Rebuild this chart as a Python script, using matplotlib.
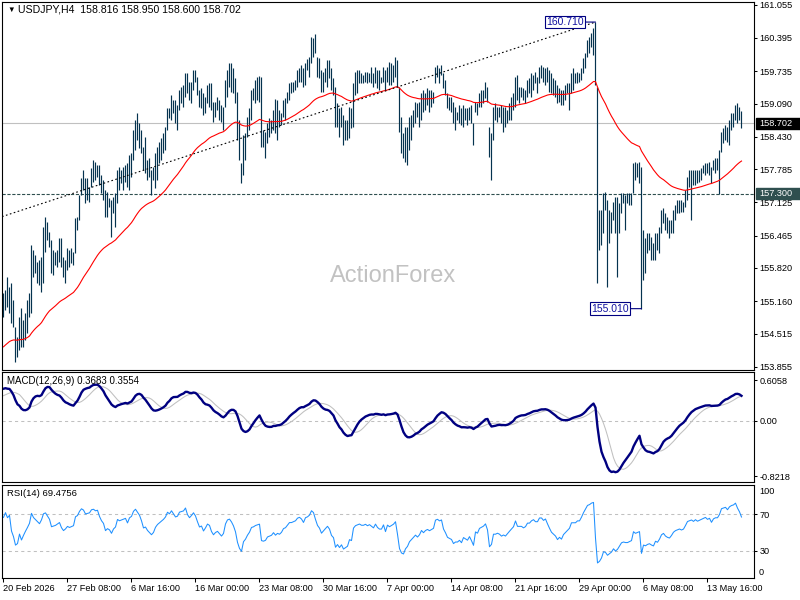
import numpy as np
import matplotlib

matplotlib.use("Agg")
import matplotlib.pyplot as plt
from matplotlib.patches import Rectangle
from matplotlib.transforms import blended_transform_factory

plt.rcParams["font.family"] = ["Liberation Sans", "DejaVu Sans"]
plt.rcParams["font.size"] = 6.5

# --- USDJPY H4 bars (20 Feb 2026 00:00 onwards) -----------------------------

HIGH = [
    155.32, 155.38, 155.64, 155.44, 155.52, 155.18, 154.64, 154.45, 154.84, 155.02,
    154.78, 154.92, 155.18, 155.32, 156.28, 156.18, 156.08, 155.94, 155.98, 156.04,
    156.63, 156.83, 156.73, 156.53, 156.38, 156.18, 156.14, 156.18, 156.42, 156.42,
    156.04, 155.98, 156.22, 156.18, 156.22, 156.14, 156.81, 156.83, 157.27, 157.61,
    157.77, 157.61, 157.61, 157.43, 157.81, 157.97, 157.93, 157.87, 157.87, 157.67,
    157.57, 157.37, 157.33, 157.21, 157.17, 157.23, 157.31, 157.77, 157.83, 157.77,
    157.83, 157.87, 157.91, 158.07, 158.11, 158.56, 158.76, 158.90, 158.70, 158.56,
    158.22, 158.42, 157.97, 158.01, 157.77, 157.83, 158.11, 158.22, 158.32, 158.40,
    158.50, 158.62, 159.00, 159.00, 159.26, 159.16, 159.16, 159.06, 159.36, 159.42,
    159.46, 159.70, 159.70, 159.52, 159.52, 159.76, 159.76, 159.62, 159.36, 159.40,
    159.30, 159.22, 159.46, 159.50, 159.50, 159.12, 159.12, 159.22, 159.16, 159.06,
    159.02, 159.56, 159.76, 159.90, 159.90, 159.80, 159.60, 159.32, 158.76, 157.91,
    158.46, 158.50, 158.82, 159.00, 159.36, 159.40, 159.56, 159.62, 159.64, 159.62,
    158.56, 158.52, 158.70, 158.80, 158.76, 158.96, 159.18, 159.16, 158.96, 158.90,
    159.16, 159.20, 159.32, 159.50, 159.52, 159.52, 159.56, 159.76, 159.80, 159.86,
    159.80, 159.90, 159.98, 160.02, 160.41, 160.39, 160.47, 160.02, 160.00, 159.76,
    159.72, 159.80, 159.96, 159.96, 159.80, 159.60, 159.42, 159.10, 159.00, 159.02,
    158.86, 158.76, 158.76, 159.02, 159.00, 159.50, 159.72, 159.76, 159.76, 159.70,
    159.66, 159.72, 159.72, 159.70, 159.82, 159.70, 159.82, 159.76, 159.76, 159.62,
    159.82, 159.76, 159.82, 159.92, 159.90, 159.86, 160.02, 159.96, 159.42, 158.82,
    158.50, 158.62, 158.62, 158.82, 158.86, 158.96, 159.12, 159.10, 159.12, 159.30,
    159.36, 159.30, 159.40, 159.36, 159.36, 159.32, 159.82, 159.86, 159.80, 159.86,
    159.70, 159.56, 159.30, 159.22, 159.22, 159.12, 159.02, 158.92, 159.06, 159.00,
    159.06, 159.00, 159.00, 159.02, 159.06, 158.70, 159.12, 159.10, 159.30, 159.36,
    159.36, 159.52, 159.42, 158.62, 158.50, 159.02, 159.10, 159.02, 159.02, 159.06,
    159.02, 159.02, 158.96, 159.10, 159.22, 159.30, 159.62, 159.66, 159.42, 159.42,
    159.40, 159.36, 159.56, 159.60, 159.70, 159.66, 159.72, 159.62, 159.82, 159.86,
    159.82, 159.80, 159.82, 159.76, 159.70, 159.60, 159.56, 159.46, 159.40, 159.36,
    159.36, 159.46, 159.50, 159.50, 159.70, 159.80, 159.70, 159.72, 159.70, 159.80,
    160.00, 160.09, 160.35, 160.41, 160.49, 160.59, 160.71, 159.42, 156.97, 156.97,
    157.31, 157.33, 157.17, 156.97, 156.93, 157.13, 157.23, 157.23, 157.11, 157.31,
    157.31, 157.27, 157.31, 157.31, 157.31, 157.91, 157.93, 157.91, 157.93, 157.83,
    156.57, 156.42, 156.51, 156.51, 156.43, 156.32, 156.51, 156.51, 156.63, 156.97,
    157.01, 156.91, 156.83, 156.77, 156.77, 156.97, 157.07, 157.17, 157.17, 157.17,
    157.13, 157.37, 157.63, 157.77, 157.77, 157.77, 157.77, 157.77, 157.77, 157.81,
    157.87, 157.91, 157.91, 157.93, 157.83, 157.97, 158.01, 158.01, 158.17, 158.52,
    158.60, 158.66, 158.62, 158.76, 158.90, 158.90, 159.06, 159.10, 159.02, 158.95,
]

LOW = [
    154.84, 154.98, 155.04, 154.92, 154.72, 154.64, 153.95, 154.05, 154.19, 154.25,
    154.25, 154.39, 154.52, 154.84, 154.92, 155.64, 155.72, 155.52, 155.48, 155.34,
    155.52, 156.14, 156.38, 156.24, 155.72, 155.68, 155.88, 155.84, 155.94, 155.84,
    155.64, 155.52, 155.78, 155.84, 155.92, 155.88, 156.12, 156.57, 156.77, 157.27,
    157.37, 157.11, 157.17, 157.13, 157.43, 157.53, 157.57, 157.63, 157.47, 157.31,
    157.17, 156.83, 156.83, 157.03, 156.43, 156.91, 156.63, 157.11, 157.37, 157.51,
    157.37, 157.53, 157.43, 157.37, 157.63, 157.97, 158.17, 158.36, 158.20, 158.11,
    157.77, 157.71, 157.57, 157.63, 157.27, 157.57, 157.41, 157.57, 157.91, 157.97,
    158.11, 158.17, 158.56, 158.80, 158.76, 158.90, 158.70, 158.56, 158.96, 159.10,
    159.02, 159.22, 159.30, 159.16, 159.10, 159.36, 159.52, 159.26, 159.02, 159.00,
    158.86, 158.90, 159.10, 159.02, 158.96, 158.72, 158.82, 158.96, 158.76, 158.72,
    158.56, 159.02, 159.22, 159.42, 159.32, 159.30, 159.10, 158.36, 157.97, 157.51,
    157.67, 157.97, 158.42, 158.56, 158.76, 159.16, 159.10, 159.16, 159.12, 158.22,
    158.22, 158.01, 158.30, 158.42, 158.50, 158.56, 158.50, 158.36, 158.62, 158.66,
    158.82, 158.76, 159.10, 159.16, 159.30, 159.32, 159.36, 159.42, 159.52, 159.52,
    159.42, 159.46, 159.76, 159.62, 159.90, 160.02, 160.09, 159.62, 159.60, 159.32,
    159.32, 159.52, 159.42, 159.60, 159.36, 159.26, 158.62, 158.62, 158.42, 158.62,
    158.26, 158.36, 158.36, 158.40, 158.60, 158.62, 159.26, 159.30, 159.50, 159.50,
    159.50, 159.52, 159.50, 159.52, 159.50, 159.42, 159.50, 159.40, 159.36, 159.50,
    159.52, 159.36, 159.52, 159.46, 159.46, 159.52, 159.62, 159.42, 158.52, 158.11,
    158.01, 157.93, 157.87, 158.17, 158.36, 158.62, 158.70, 158.82, 158.62, 158.76,
    158.92, 158.96, 159.06, 158.92, 159.02, 159.10, 159.50, 159.62, 159.50, 159.66,
    159.40, 159.26, 159.00, 158.96, 158.92, 158.70, 158.56, 158.76, 158.70, 158.66,
    158.62, 158.76, 158.66, 158.76, 158.70, 158.26, 158.92, 158.86, 159.02, 159.02,
    159.10, 159.20, 159.12, 158.03, 157.57, 158.36, 158.76, 158.72, 158.82, 158.70,
    158.52, 158.62, 158.70, 158.76, 158.76, 158.96, 159.02, 159.16, 159.10, 159.22,
    159.16, 159.10, 159.22, 159.30, 159.22, 159.36, 159.50, 159.30, 159.50, 159.60,
    159.52, 159.46, 159.52, 159.32, 159.30, 159.26, 159.22, 159.10, 159.12, 159.06,
    159.06, 159.16, 159.30, 158.96, 159.30, 159.36, 159.50, 159.50, 159.52, 159.56,
    159.70, 159.80, 160.02, 160.09, 160.21, 160.05, 159.46, 155.52, 156.18, 156.28,
    156.51, 156.97, 155.44, 156.32, 156.51, 156.77, 156.51, 155.64, 156.51, 156.91,
    157.11, 156.57, 157.11, 157.07, 157.07, 157.31, 157.57, 157.63, 157.51, 155.01,
    155.58, 155.72, 156.12, 156.18, 155.98, 155.98, 155.98, 156.18, 156.12, 156.51,
    156.71, 156.57, 156.51, 156.42, 156.51, 156.51, 156.77, 156.91, 156.91, 156.93,
    156.93, 157.03, 157.17, 157.43, 156.77, 157.47, 157.47, 157.51, 157.53, 157.57,
    157.71, 157.67, 157.71, 157.67, 157.51, 157.77, 157.71, 157.77, 157.30, 158.13,
    158.30, 158.36, 158.32, 158.26, 158.56, 158.62, 158.76, 158.70, 158.76, 158.60,
]

CLOSE = [
    155.10, 155.30, 155.20, 155.30, 154.90, 154.70, 154.30, 154.35, 154.70, 154.40,
    154.60, 154.80, 155.00, 155.25, 156.10, 155.90, 155.80, 155.70, 155.60, 155.90,
    156.50, 156.60, 156.45, 156.30, 155.90, 155.95, 156.00, 156.10, 156.20, 155.95,
    155.80, 155.90, 156.05, 156.00, 156.05, 156.10, 156.70, 156.80, 157.20, 157.50,
    157.45, 157.30, 157.35, 157.40, 157.70, 157.75, 157.70, 157.75, 157.55, 157.40,
    157.30, 157.00, 157.10, 157.05, 156.90, 157.10, 157.20, 157.65, 157.60, 157.65,
    157.70, 157.75, 157.60, 157.90, 158.00, 158.40, 158.60, 158.50, 158.40, 158.20,
    157.90, 157.95, 157.80, 157.70, 157.60, 157.70, 157.95, 158.10, 158.20, 158.30,
    158.40, 158.55, 158.90, 158.85, 159.10, 159.00, 158.90, 158.95, 159.25, 159.30,
    159.35, 159.60, 159.40, 159.30, 159.45, 159.65, 159.55, 159.35, 159.15, 159.20,
    159.00, 159.15, 159.35, 159.30, 159.05, 158.90, 159.00, 159.05, 158.95, 158.85,
    158.95, 159.40, 159.65, 159.70, 159.60, 159.45, 159.20, 158.60, 158.10, 157.80,
    158.30, 158.45, 158.70, 158.90, 159.25, 159.30, 159.40, 159.45, 159.50, 158.40,
    158.35, 158.40, 158.60, 158.65, 158.70, 158.85, 158.70, 158.80, 158.75, 158.85,
    159.05, 159.10, 159.25, 159.40, 159.40, 159.45, 159.50, 159.65, 159.70, 159.65,
    159.55, 159.80, 159.85, 159.95, 160.25, 160.20, 160.00, 159.80, 159.70, 159.50,
    159.60, 159.70, 159.80, 159.70, 159.45, 159.35, 158.80, 158.90, 158.70, 158.80,
    158.50, 158.55, 158.60, 158.85, 158.80, 159.40, 159.55, 159.60, 159.65, 159.60,
    159.60, 159.65, 159.60, 159.65, 159.60, 159.55, 159.70, 159.60, 159.55, 159.55,
    159.70, 159.50, 159.75, 159.70, 159.75, 159.80, 159.90, 159.50, 158.70, 158.30,
    158.20, 158.40, 158.50, 158.70, 158.80, 158.90, 159.00, 158.90, 159.00, 159.20,
    159.10, 159.20, 159.25, 159.20, 159.25, 159.30, 159.70, 159.75, 159.70, 159.75,
    159.45, 159.30, 159.10, 159.05, 159.00, 158.80, 158.85, 158.85, 158.90, 158.80,
    158.95, 158.90, 158.85, 158.95, 158.80, 158.60, 159.05, 159.00, 159.20, 159.25,
    159.30, 159.40, 159.20, 158.30, 158.40, 158.90, 158.90, 158.95, 158.90, 158.80,
    158.85, 158.80, 158.90, 159.00, 159.10, 159.20, 159.50, 159.30, 159.30, 159.30,
    159.25, 159.30, 159.45, 159.45, 159.55, 159.60, 159.55, 159.55, 159.70, 159.70,
    159.65, 159.70, 159.60, 159.50, 159.40, 159.35, 159.30, 159.20, 159.25, 159.20,
    159.30, 159.35, 159.40, 159.45, 159.60, 159.60, 159.60, 159.65, 159.65, 159.75,
    159.90, 160.05, 160.25, 160.30, 160.40, 160.45, 159.50, 156.50, 156.60, 156.80,
    157.20, 157.10, 156.60, 156.70, 156.80, 157.00, 156.70, 156.80, 157.00, 157.20,
    157.25, 157.20, 157.20, 157.25, 157.30, 157.80, 157.70, 157.75, 157.80, 155.70,
    156.30, 156.20, 156.30, 156.35, 156.20, 156.10, 156.40, 156.30, 156.50, 156.80,
    156.90, 156.70, 156.60, 156.55, 156.70, 156.90, 157.00, 157.05, 157.10, 157.05,
    157.10, 157.30, 157.55, 157.60, 157.65, 157.60, 157.70, 157.65, 157.70, 157.75,
    157.80, 157.85, 157.80, 157.85, 157.75, 157.90, 157.95, 157.95, 158.10, 158.45,
    158.50, 158.55, 158.50, 158.70, 158.80, 158.85, 159.00, 158.90, 158.82, 158.702,
]

LAST_OPEN = 158.816
SUPPORT = 157.30
TREND_BARS = [0, 296]
TREND_PRICES = [156.85, 160.71]
HIGH_MARK_BAR = 296   # 160.710 swing high
LOW_MARK_BAR = 319    # 155.010 swing low

# indicator state just before the first visible bar
EMA55_SEED = 154.22
FAST_SEED, SLOW_SEED, SIGNAL_SEED = 154.70, 154.22, 0.36
GAIN_SEED, LOSS_SEED = 0.06, 0.03

PRICE_TICKS = [161.055, 160.395, 159.735, 159.090, 158.430, 157.785,
               157.125, 156.465, 155.820, 155.160, 154.515, 153.855]
MACD_TICKS = [0.6058, 0.0, -0.8218]
MACD_LABELS = ["0.6058", "0.00", "-0.8218"]
DATE_BARS = list(range(0, 353, 32))
DATE_LABELS = ["20 Feb 2026", "27 Feb 08:00", "6 Mar 16:00", "16 Mar 00:00",
               "23 Mar 08:00", "30 Mar 16:00", "7 Apr 00:00", "14 Apr 08:00",
               "21 Apr 16:00", "29 Apr 00:00", "6 May 08:00", "13 May 16:00"]

BAR_COLOUR = "#05334F"
NAVY = "#000080"


def ema(values, period, prev):
    a = 2.0 / (period + 1)
    out = []
    for v in values:
        prev += a * (v - prev)
        out.append(prev)
    return np.array(out)


close = np.array(CLOSE)
x = np.arange(len(close))
ma55 = ema(close, 55, EMA55_SEED)
macd = ema(close, 12, FAST_SEED) - ema(close, 26, SLOW_SEED)
signal = np.convolve(np.concatenate([np.full(8, SIGNAL_SEED), macd]),
                     np.ones(9) / 9, mode="valid")

g, l = GAIN_SEED, LOSS_SEED
rsi = []
for d in np.diff(close, prepend=close[0]):
    g = (g * 13 + max(d, 0.0)) / 14
    l = (l * 13 + max(-d, 0.0)) / 14
    rsi.append(100 - 100 / (1 + g / l))
rsi = np.array(rsi)

# --- layout (pixel boxes of an 800x600 canvas) ------------------------------

W, H = 800, 600
fig = plt.figure(figsize=(8, 6), dpi=100)


def panel(top, bottom):
    return fig.add_axes([2 / W, 1 - bottom / H, 752 / W, (bottom - top) / H])


ax = panel(2, 370)
ax_macd = panel(372, 482)
ax_rsi = panel(485, 578)

for a in (ax, ax_macd, ax_rsi):
    # 2 px per bar, bar centres on pixel centres
    a.set_xlim(-0.75, 375.25)
    for s in a.spines.values():
        s.set_linewidth(0.8)
        s.set_color("black")
    a.yaxis.tick_right()
    a.tick_params(axis="y", length=2.5, width=0.75, pad=1.5, labelsize=6.6)
ax.set_xticks([])
ax_macd.set_xticks([])

# --- price panel ------------------------------------------------------------

ax.set_ylim(153.790, 161.109)
ax.set_yticks(PRICE_TICKS, labels=[f"{t:.3f}" for t in PRICE_TICKS])

ax.text(0.52, 0.255, "ActionForex", transform=ax.transAxes, fontsize=17,
        color="#C2C2C2", ha="center", va="center", zorder=0)
ax.axhline(CLOSE[-1], color="#C0C0C0", lw=0.8, zorder=1)
ax.axhline(SUPPORT, color="#2F4F4F", lw=0.8, dashes=(2.9, 1.5), zorder=1)
ax.vlines(x, LOW, HIGH, colors=BAR_COLOUR, linewidth=0.85, zorder=2)
ax.plot(x, ma55, color="red", lw=0.8, zorder=3)

slope = (TREND_PRICES[1] - TREND_PRICES[0]) / (TREND_BARS[1] - TREND_BARS[0])
tx = np.array([-0.75, TREND_BARS[1]])
ax.plot(tx, TREND_PRICES[0] + slope * (tx - TREND_BARS[0]), color="black",
        lw=0.8, dashes=(1.5, 2.2), zorder=3)

for bar, value, dx in ((HIGH_MARK_BAR, HIGH[HIGH_MARK_BAR], -8.2),
                       (LOW_MARK_BAR, LOW[LOW_MARK_BAR], -8.9)):
    ax.annotate(f"{value:.3f}", xy=(bar, value), xytext=(dx, 0),
                textcoords="offset points", ha="right", va="center",
                fontsize=7.5, color="#1010A0", zorder=6,
                bbox=dict(boxstyle="square,pad=0.12", fc="white", ec=NAVY, lw=0.8),
                arrowprops=dict(arrowstyle="-", color=NAVY, lw=0.8,
                                shrinkA=0, shrinkB=0))

ax.text(5 / 752, 1 - 8 / 368, "▼", transform=ax.transAxes, fontsize=5.5,
        va="center", ha="left")
ax.text(16 / 752, 1 - 8 / 368,
        f"USDJPY,H4  {LAST_OPEN:.3f} {HIGH[-1]:.3f} {LOW[-1]:.3f} {CLOSE[-1]:.3f}",
        transform=ax.transAxes, fontsize=7.6, va="center", ha="left")

# price boxes on the right scale
tr = blended_transform_factory(ax.transAxes, ax.transData)
box_h = 11 * (161.109 - 153.790) / 368
for value, face in ((CLOSE[-1], "black"), (SUPPORT, "#2F4F4F")):
    ax.add_patch(Rectangle((1 + 2 / 752, value - box_h / 2), 44 / 752, box_h,
                           transform=tr, fc=face, ec=face, clip_on=False, zorder=5))
    ax.text(1 + 5 / 752, value, f"{value:.3f}", transform=tr, color="white",
            fontsize=6.6, ha="left", va="center", clip_on=False, zorder=6)

# --- MACD panel -------------------------------------------------------------

ax_macd.set_ylim(-0.911, 0.725)
ax_macd.set_yticks(MACD_TICKS, labels=MACD_LABELS)
ax_macd.axhline(0, color="#C0C0C0", lw=0.75, dashes=(3, 3))
ax_macd.plot(x, signal, color="#C0C0C0", lw=0.75)
ax_macd.plot(x, macd, color=NAVY, lw=1.7)
ax_macd.text(5 / 752, 1 - 9 / 110, "MACD(12,26,9) 0.3683 0.3554",
             transform=ax_macd.transAxes, fontsize=7, va="center")

# --- RSI panel --------------------------------------------------------------

ax_rsi.set_ylim(0.5, 102)
ax_rsi.set_yticks([70, 30], labels=["70", "30"])
for level in (70, 30):
    ax_rsi.axhline(level, color="#C0C0C0", lw=0.75, dashes=(3, 3))
ax_rsi.plot(x, rsi, color="#1E90FF", lw=0.75)
ax_rsi.text(5 / 752, 1 - 9 / 93, "RSI(14) 69.4756",
            transform=ax_rsi.transAxes, fontsize=6.8, va="center")
rtr = blended_transform_factory(ax_rsi.transAxes, ax_rsi.transData)
ax_rsi.text(1 + 5 / 752, 94.4, "100", transform=rtr, fontsize=6.6, va="center")
ax_rsi.text(1 + 5 / 752, 7.0, "0", transform=rtr, fontsize=6.6, va="center")

ax_rsi.set_xticks(DATE_BARS, labels=DATE_LABELS, ha="left")
ax_rsi.tick_params(axis="x", length=3, width=0.75, pad=1.5, labelsize=6.6)

fig.savefig("out.png", dpi=100)
